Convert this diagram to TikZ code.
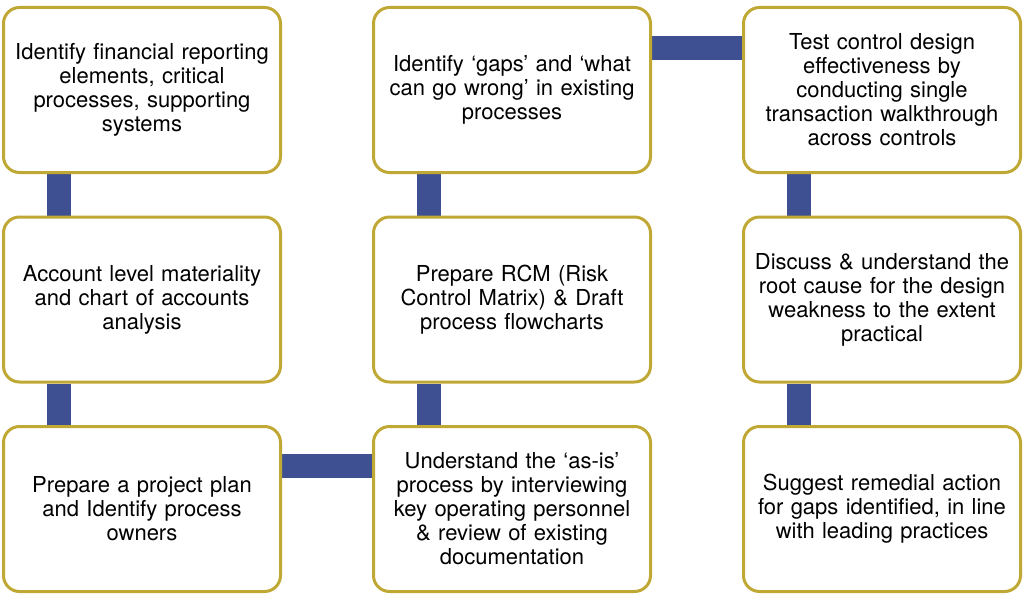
\documentclass[tikz,border=0pt]{standalone}
\usepackage{fontspec}
\setmainfont{TeX Gyre Heros}
\usepackage{tikz}
\usetikzlibrary{positioning, backgrounds}
\definecolor{boxgold}{RGB}{192,168,52}
\definecolor{barnavy}{RGB}{62,80,145}
\tikzstyle{stage}=[%
      rectangle, rounded corners=16pt, draw=boxgold, line width=3pt, fill=white,
      minimum width=277pt, minimum height=165pt, text width=272pt, align=center,
      inner sep=2pt, font=\fontsize{22}{24}\selectfont
]
\tikzstyle{bar}=[%
      draw=barnavy, line width=24pt
]

\begin{document}
\begin{tikzpicture}[x=1pt, y=1pt, node distance=41.5pt and 90pt]
    \useasboundingbox (0,0) rectangle (1024,-599);

    \node[stage]  (ident)                    at (142,-90) {Identify financial reporting\\elements, critical\\processes, supporting\\systems};
    \node[stage]  (mat)     [below = of ident]   {Account level materiality\\and chart of accounts\\analysis};
    \node[stage]  (plan)    [below = of mat]     {Prepare a project plan\\and Identify process\\owners};
    \node[stage]  (asis)    [right = of plan]    {Understand the ‘as-is’\\process by interviewing\\key operating personnel\\\& review of existing\\documentation};
    \node[stage]  (rcm)     [above = of asis]    {Prepare RCM (Risk\\Control Matrix) \& Draft\\process flowcharts};
    \node[stage]  (gaps)    [above = of rcm]     {Identify ‘gaps’ and ‘what\\can go wrong’ in existing\\processes};
    \node[stage]  (test)    [right = of gaps]    {Test control design\\effectiveness by\\conducting single\\transaction walkthrough\\across controls};
    \node[stage]  (discuss) [below = of test]    {Discuss \& understand the\\root cause for the design\\weakness to the extent\\practical};
    \node[stage]  (remedy)  [below = of discuss] {Suggest remedial action\\for gaps identified, in line\\with leading practices};

    \begin{scope}[on background layer]
      \draw[bar] ([xshift=57pt]ident.south west) -- ([xshift=57pt]mat.north west);
      \draw[bar] ([xshift=57pt]mat.south west) -- ([xshift=57pt]plan.north west);
      \draw[bar] ([yshift=-41pt]plan.north east) -- ([yshift=-41pt]asis.north west);
      \draw[bar] ([xshift=57pt]asis.north west) -- ([xshift=57pt]rcm.south west);
      \draw[bar] ([xshift=57pt]rcm.north west) -- ([xshift=57pt]gaps.south west);
      \draw[bar] ([yshift=-42pt]gaps.north east) -- ([yshift=-42pt]test.north west);
      \draw[bar] ([xshift=57pt]test.south west) -- ([xshift=57pt]discuss.north west);
      \draw[bar] ([xshift=57pt]discuss.south west) -- ([xshift=57pt]remedy.north west);
    \end{scope}

  \end{tikzpicture}
\end{document}
